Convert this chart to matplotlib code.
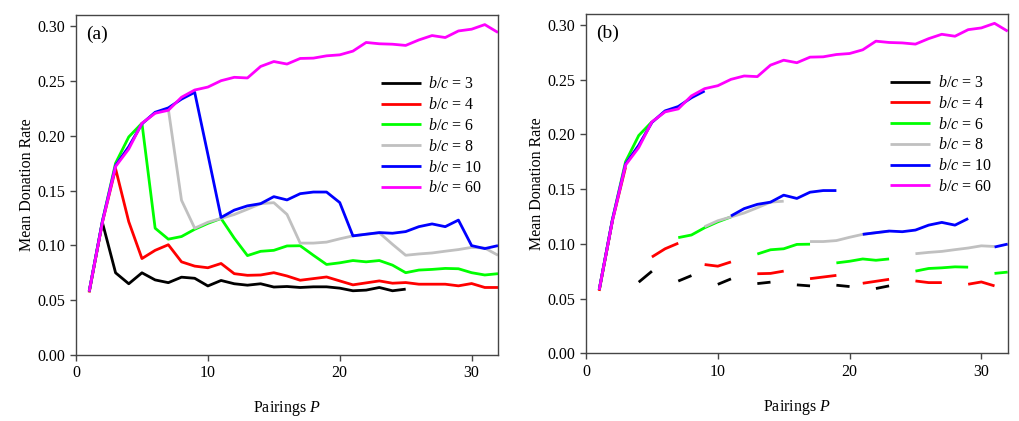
import numpy as np
import matplotlib
matplotlib.use("Agg")
import matplotlib.pyplot as plt

plt.rcParams['font.family'] = ['Liberation Serif', 'DejaVu Serif']
plt.rcParams['mathtext.fontset'] = 'custom'
plt.rcParams['mathtext.rm'] = 'Liberation Serif'
plt.rcParams['mathtext.it'] = 'Liberation Serif:italic'

# ---- data ----
bc_values = [3, 4, 6, 8, 10, 60]
colors = ['#000000', '#ff0000', '#00ff00', '#c0c0c0', '#0000ff', '#ff00ff']

rate_bc3 = [0.058, 0.121, 0.075, 0.065, 0.075, 0.0685, 0.066, 0.071, 0.070, 0.063,
            0.068, 0.065, 0.0637, 0.065, 0.062, 0.0625, 0.0616, 0.0622, 0.0622, 0.061,
            0.0586, 0.0592, 0.0616, 0.0586, 0.0601]
rate_bc4 = [0.057, 0.121, 0.170, 0.1216, 0.088, 0.0955, 0.1006, 0.085, 0.0811, 0.0796,
            0.0835, 0.0742, 0.0727, 0.073, 0.0751, 0.0721, 0.0682, 0.0697, 0.0712, 0.0676,
            0.064, 0.0658, 0.0676, 0.0655, 0.0661, 0.0646, 0.0646, 0.0646, 0.0631, 0.0652,
            0.0616, 0.0616]
rate_bc6 = [0.058, 0.122, 0.175, 0.199, 0.2115, 0.1157, 0.1057, 0.1081, 0.1147, 0.1201,
            0.1246, 0.1066, 0.0907, 0.0946, 0.0955, 0.0995, 0.0997, 0.091, 0.0826, 0.0841,
            0.0862, 0.085, 0.0862, 0.082, 0.0751, 0.0775, 0.0781, 0.079, 0.0787, 0.0751,
            0.073, 0.0742]
rate_bc8 = [0.058, 0.122, 0.173, 0.190, 0.211, 0.221, 0.2245, 0.1412, 0.1157, 0.1211,
            0.1246, 0.1282, 0.133, 0.1381, 0.139, 0.1283, 0.1021, 0.1021, 0.103, 0.106,
            0.1087, 0.1102, 0.1115, 0.101, 0.091, 0.0922, 0.0931, 0.0947, 0.0962, 0.0982,
            0.0976, 0.091]
rate_bc10 = [0.058, 0.122, 0.173, 0.190, 0.211, 0.2215, 0.2255, 0.2335, 0.2397, 0.183,
             0.1255, 0.1322, 0.1361, 0.1381, 0.1445, 0.1415, 0.1472, 0.1487, 0.1487, 0.1391,
             0.1087, 0.1102, 0.1117, 0.1111, 0.1126, 0.1171, 0.1196, 0.1171, 0.1231, 0.0998,
             0.0971, 0.0998]
rate_bc60 = [0.058, 0.121, 0.172, 0.188, 0.2115, 0.2206, 0.2233, 0.2352, 0.2418, 0.2445,
             0.2503, 0.2534, 0.2528, 0.2633, 0.2678, 0.2655, 0.2706, 0.2709, 0.273, 0.2739,
             0.2773, 0.2852, 0.284, 0.2836, 0.2825, 0.2875, 0.2915, 0.2897, 0.2957, 0.2973,
             0.3015, 0.2943]
series = [rate_bc3, rate_bc4, rate_bc6, rate_bc8, rate_bc10, rate_bc60]

x_ticks = [0, 10, 20, 30]
y_ticks = [0.00, 0.05, 0.10, 0.15, 0.20, 0.25, 0.30]

fig = plt.figure(figsize=(10.19, 4.21), dpi=100)
ax_a = fig.add_axes([0.0746, 0.1568, 0.4141, 0.8069])
ax_b = fig.add_axes([0.5751, 0.1608, 0.4138, 0.8059])

spine_col = '#454545'
for ax, panel in [(ax_a, '(a)'), (ax_b, '(b)')]:
    for bc, col, vals in zip(bc_values, colors, series):
        P = np.arange(1, len(vals) + 1)
        y = np.array(vals, dtype=float)
        if panel == '(b)':
            y = np.where(P % bc == 0, np.nan, y)
        ax.plot(P, y, color=col, lw=2.0, label=f"$b$/$c$ = {bc}", solid_capstyle='butt')
    ax.set_xlim(0, 32)
    ax.set_ylim(0, 0.31)
    ax.set_xticks(x_ticks)
    ax.set_yticks(y_ticks)
    ax.set_yticklabels([f"{v:.2f}" for v in y_ticks])
    ax.tick_params(direction='out', length=4, width=1, color=spine_col,
                   labelsize=11.5, top=False, right=False)
    for s in ax.spines.values():
        s.set_color(spine_col)
        s.set_linewidth(1.0)
    ax.set_xlabel("Pairings $P$", fontsize=11.5, labelpad=13)
    ax.set_ylabel("Mean Donation Rate", fontsize=11.5, labelpad=2)
    ax.text(0.025, 0.968, panel, transform=ax.transAxes, fontsize=14,
            ha='left', va='top')
    ax.legend(loc='upper left', bbox_to_anchor=(0.722, 0.82), frameon=False,
              fontsize=11.5, handlelength=2.5, handletextpad=0.45,
              labelspacing=0.3, borderpad=0, borderaxespad=0)

fig.savefig("out.png", dpi=100)
